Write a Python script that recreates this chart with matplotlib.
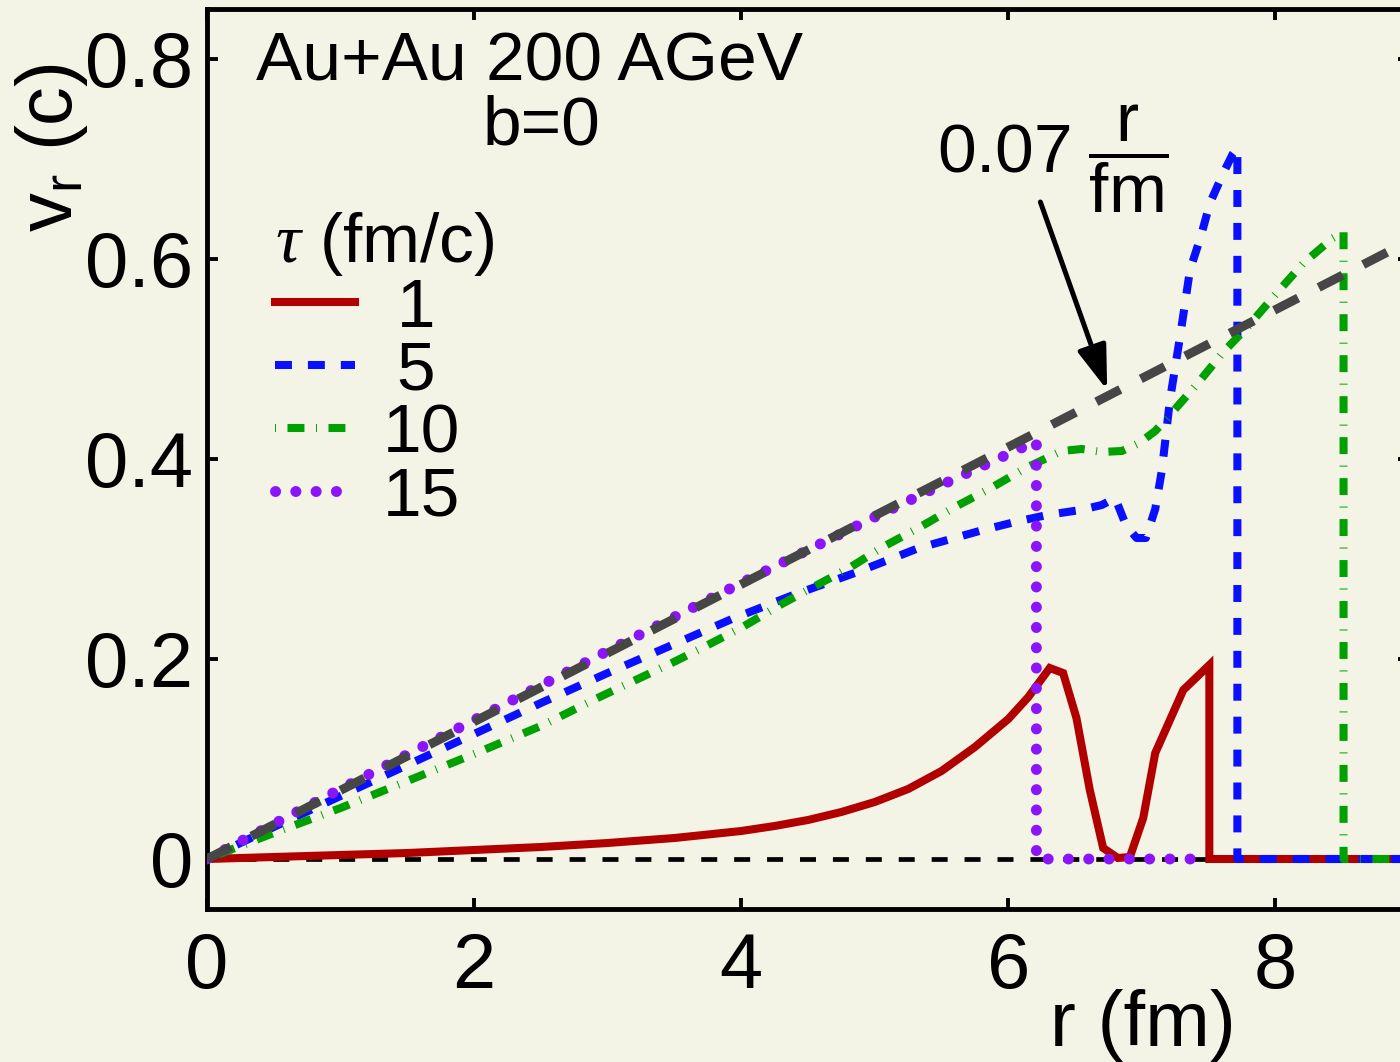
import matplotlib
matplotlib.use('Agg')
import matplotlib.pyplot as plt

plt.rcParams['font.family'] = ['Liberation Sans', 'DejaVu Sans']
plt.rcParams['mathtext.fontset'] = 'custom'
plt.rcParams['mathtext.rm'] = 'Liberation Sans'
plt.rcParams['mathtext.it'] = 'Liberation Serif:italic'
plt.rcParams['mathtext.bf'] = 'Liberation Sans:bold'
plt.rcParams['lines.scale_dashes'] = False

BG = '#f3f4e6'

# ---------------- data ----------------
tau_labels = ['1', '5', '10', '15']

r_tau1 = [0, 0.5, 1.0, 1.5, 2.0, 2.5, 3.0, 3.5, 4.0, 4.25, 4.5, 4.75, 5.0, 5.25, 5.5,
          5.75, 6.0, 6.15, 6.31, 6.41, 6.51, 6.61, 6.71, 6.82, 6.91, 7.01, 7.10,
          7.31, 7.505, 7.505, 9.0]
v_tau1 = [0, 0.002, 0.004, 0.006, 0.009, 0.012, 0.016, 0.021, 0.028, 0.033, 0.039,
          0.047, 0.057, 0.070, 0.088, 0.112, 0.140, 0.162, 0.191, 0.186, 0.141,
          0.069, 0.011, 0.001, 0.002, 0.041, 0.106, 0.169, 0.194, 0, 0]

r_tau5 = [0, 0.5, 1.0, 1.5, 2.0, 2.5, 3.0, 3.5, 3.93, 4.39, 4.87, 5.33, 5.81, 6.05, 6.29,
          6.54, 6.70, 6.80, 6.88, 6.96, 7.03, 7.10, 7.15, 7.21, 7.29, 7.36, 7.44, 7.51,
          7.61, 7.68, 7.715, 7.715, 9.0]
v_tau5 = [0, 0.032, 0.063, 0.094, 0.125, 0.156, 0.186, 0.215, 0.240, 0.264, 0.287, 0.311,
          0.329, 0.337, 0.344, 0.349, 0.354, 0.361, 0.334, 0.321, 0.321, 0.350, 0.389,
          0.459, 0.526, 0.589, 0.622, 0.656, 0.686, 0.705, 0.711, 0, 0]

r_tau10 = [0, 0.5, 1.0, 1.5, 2.0, 2.5, 2.94, 3.21, 3.48, 3.75, 4.01, 4.29, 4.54, 4.82,
           5.06, 5.34, 5.60, 5.87, 6.13, 6.40, 6.55, 6.70, 6.85, 6.98, 7.10, 7.21, 7.42,
           7.61, 7.79, 8.01, 8.21, 8.43, 8.51, 8.51, 9.0]
v_tau10 = [0, 0.026, 0.051, 0.078, 0.105, 0.133, 0.162, 0.179, 0.196, 0.214, 0.232, 0.254,
           0.272, 0.292, 0.312, 0.332, 0.352, 0.371, 0.391, 0.408, 0.410, 0.407, 0.408,
           0.416, 0.428, 0.444, 0.476, 0.507, 0.532, 0.566, 0.596, 0.621, 0.627, 0, 0]

r_tau15 = [0, 1, 2, 3, 4, 5, 5.5, 6.0, 6.21, 6.21, 7.5]
v_tau15 = [0, 0.070, 0.139, 0.208, 0.276, 0.342, 0.374, 0.405, 0.418, 0, 0]

r_ref = [0, 9.0]
v_ref = [0, 0.618]

r_zero = [0, 9.0]
v_zero = [0, 0]

x_ticks = [0, 2, 4, 6, 8]
x_ticklabels = ['0', '2', '4', '6', '8']
y_ticks = [0, 0.2, 0.4, 0.6, 0.8]
y_ticklabels = ['0', '0.2', '0.4', '0.6', '0.8']

# ---------------- figure ----------------
W, H = 1400, 1062
fig = plt.figure(figsize=(W / 100, H / 100), dpi=100, facecolor=BG)
ax = fig.add_axes([207 / W, 153 / H, 1202 / W, 900 / H])
ax.set_facecolor(BG)
ax.set_xlim(0, 9)
ax.set_ylim(-0.05, 0.85)

ax.plot(r_zero, v_zero, color='black', lw=3.4, dashes=(11.5, 12.2), zorder=2)
l1, = ax.plot(r_tau1, v_tau1, color='#b00000', lw=5.8, solid_joinstyle='miter',
              label=tau_labels[0], zorder=3)
l5, = ax.plot(r_tau5, v_tau5, color='#0a10ff', lw=5.8, dashes=(12.2, 11.5),
              label=tau_labels[1], zorder=4)
l10, = ax.plot(r_tau10, v_tau10, color='#00a000', lw=5.8, dashes=(0.7, 8.3, 12.2, 8.3),
               dash_capstyle='butt', label=tau_labels[2], zorder=5)
l15, = ax.plot(r_tau15, v_tau15, color='#8c14f8', lw=7.9, dashes=(0.1, 14.5),
               dash_capstyle='round', label=tau_labels[3], zorder=6)
ax.plot(r_ref, v_ref, color='#464646', lw=6.5, dashes=(19.4, 16.6), zorder=7)

ax.set_xticks(x_ticks)
ax.set_xticklabels(x_ticklabels)
ax.set_yticks(y_ticks)
ax.set_yticklabels(y_ticklabels)
ax.tick_params(direction='in', length=8, width=2.8, top=True, right=True,
               labelsize=56, pad=10)
ax.tick_params(axis='x', pad=16)
for s in ax.spines.values():
    s.set_linewidth(3.5)

shown_labels = [('\u2009' + t) if len(t) == 1 else t for t in tau_labels]
leg = ax.legend(handles=[l1, l5, l10, l15], labels=shown_labels, title=r'$\tau$ (fm/c)',
                loc='upper left', bbox_to_anchor=(0.0566, 0.777), frameon=False,
                fontsize=50, title_fontsize=50, handlelength=1.15, handletextpad=0.4,
                labelspacing=-0.015, borderpad=0, borderaxespad=0, alignment='left')

ax.text(0.268, 0.921, 'Au+Au 200 AGeV', transform=ax.transAxes, ha='center',
        va='baseline', fontsize=50)
ax.text(0.278, 0.849, 'b=0', transform=ax.transAxes, ha='center',
        va='baseline', fontsize=50)
ax.text(0.607, 0.818, r'$0.07\ \dfrac{\mathrm{r}}{\mathrm{fm}}$', transform=ax.transAxes,
        ha='left', va='baseline', fontsize=50)
ax.annotate('', xy=(6.74, 0.469), xytext=(6.24, 0.657),
            arrowprops=dict(arrowstyle='-|>,head_length=0.9,head_width=0.3', lw=3.6,
                            color='black', shrinkA=0, shrinkB=0, mutation_scale=30))

fig.text(52 / W, 1 - 148 / H, r'v$_\mathrm{r}$ (c)', rotation=90, ha='center',
         va='center', fontsize=56)
fig.text(1143 / W, 1 - 1046 / H, 'r (fm)', ha='center', va='baseline', fontsize=56)

fig.savefig('out.png', dpi=100, facecolor=BG)
